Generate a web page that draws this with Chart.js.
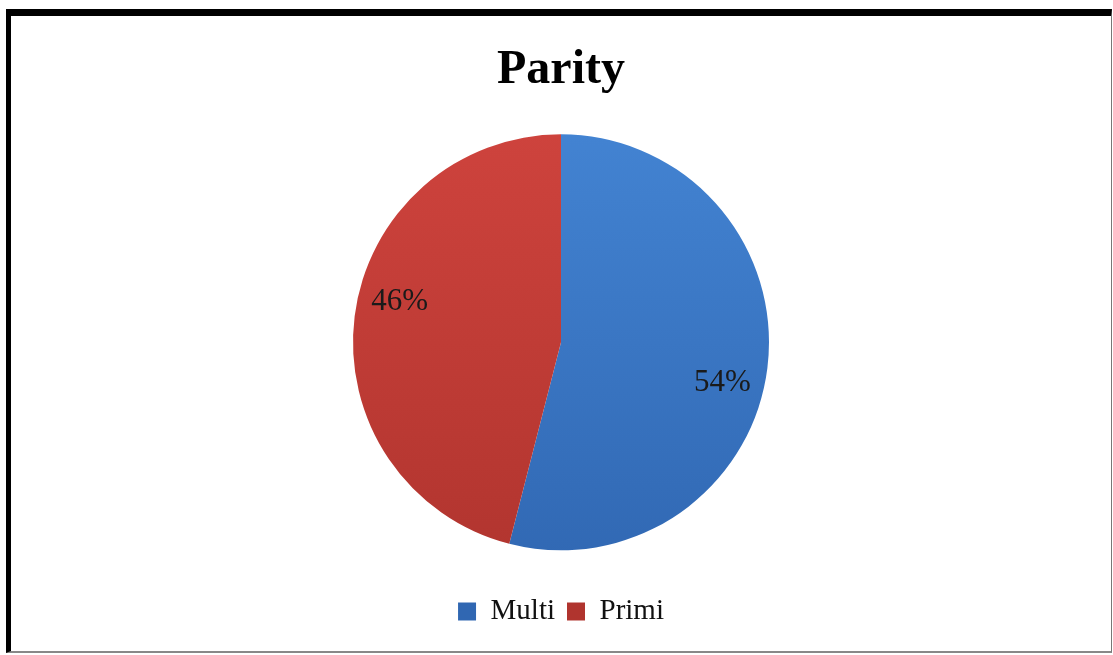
<!DOCTYPE html>
<html>
<head>
<meta charset="utf-8">
<script src="https://cdn.jsdelivr.net/npm/chart.js@4"></script>
<style>
    body { margin: 0; background: #fff; }
    #frame {
        position: absolute;
        left: 6px;
        top: 9px;
        width: 1100px;
        height: 635px;
        border-top: 7px solid #000;
        border-left: 5px solid #000;
        border-right: 1px solid #777;
        border-bottom: 2px solid #888;
        background: #fff;
    }
</style>
</head>
<body>
<div id="frame"><canvas id="parityChart" width="1100" height="635"></canvas></div>
<script>
// Données du graphique
const labels = ['Multi', 'Primi'];
const values = [54, 46];
const colorsTop = ['#4485d4', '#d0443e'];
const colorsBottom = ['#3067b2', '#b0342e'];

// Dégradé vertical façon Excel
function sliceColor(context) {
    const i = context.dataIndex;
    const area = context.chart.chartArea;
    if (!area) {
        return colorsTop[i];
    }
    const g = context.chart.ctx.createLinearGradient(0, area.top, 0, area.bottom);
    g.addColorStop(0, colorsTop[i]);
    g.addColorStop(1, colorsBottom[i]);
    return g;
}

// Étiquettes de pourcentage dans les parts (léger décalage horaire comme Excel)
const labelShift = 7 * Math.PI / 180;
const percentLabels = {
    id: 'percentLabels',
    afterDatasetsDraw(chart) {
        const ctx = chart.ctx;
        const meta = chart.getDatasetMeta(0);
        const total = values.reduce((a, b) => a + b, 0);
        ctx.save();
        ctx.font = '31px "Liberation Serif", "Times New Roman", serif';
        ctx.fillStyle = '#1a1a1a';
        ctx.textAlign = 'center';
        ctx.textBaseline = 'middle';
        meta.data.forEach((arc, i) => {
            const mid = (arc.startAngle + arc.endAngle) / 2 + labelShift;
            const r = arc.outerRadius * 0.8;
            const x = arc.x + Math.cos(mid) * r;
            const y = arc.y + Math.sin(mid) * r;
            ctx.fillText(Math.round(values[i] / total * 100) + '%', x, y);
        });
        ctx.restore();
    }
};

const ctx = document.getElementById('parityChart').getContext('2d');
new Chart(ctx, {
    type: 'pie',
    data: {
        labels: labels,
        datasets: [{
            data: values,
            backgroundColor: sliceColor,
            borderWidth: 0,
            radius: 208
        }]
    },
    options: {
        responsive: false,
        animation: false,
        layout: { padding: { bottom: 15 } },
        plugins: {
            title: {
                display: true,
                text: 'Parity',
                color: '#000',
                font: { family: '"Liberation Serif", "Times New Roman", serif', size: 48, weight: 'bold' },
                padding: { top: 26, bottom: 0 }
            },
            legend: {
                position: 'bottom',
                labels: {
                    color: '#111',
                    boxWidth: 18,
                    boxHeight: 18,
                    padding: 12,
                    font: { family: '"Liberation Serif", "Times New Roman", serif', size: 29 }
                }
            },
            tooltip: { enabled: false }
        }
    },
    plugins: [percentLabels]
});
</script>
</body>
</html>
